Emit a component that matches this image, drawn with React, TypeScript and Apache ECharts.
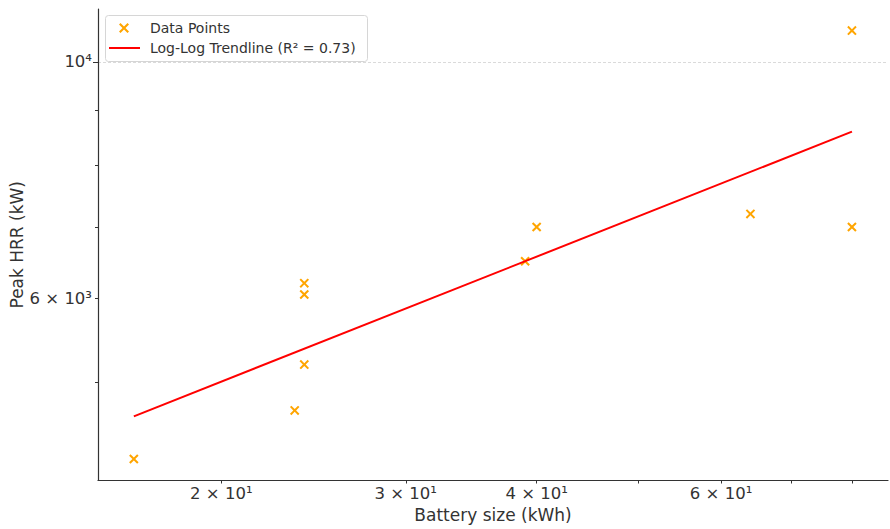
import React, { useEffect, useRef } from 'react';
import * as echarts from 'echarts';

const batterySizes = [16.5, 23.5, 24, 24, 24, 39, 40, 64, 80, 80];
const peakHRR = [4240, 4710, 5200, 6050, 6200, 6500, 7000, 7200, 7000, 10700];
const trendX = [16.5, 80];
const trendY = [4650, 8600];
const xTickValues = [20, 30, 40, 50, 60, 70, 80];
const xLabelValues = [20, 30, 40, 60];
const yMinorTicks = [5000, 6000, 7000, 8000, 9000];
const yMajorTicks = [10000];
const yLabelValues = [6000, 10000];
const seriesNames = ['Data Points', 'Log-Log Trendline (R² = 0.73)'];
const axisNames = ['Battery size (kWh)', 'Peak HRR (kW)'];
const xRange = [15.25, 86.6];
const yRange = [4048, 11210];

const SUP: Record<string, string> = { '0': '⁰', '1': '¹', '2': '²', '3': '³', '4': '⁴', '5': '⁵', '6': '⁶', '7': '⁷', '8': '⁸', '9': '⁹' };
function sci(v: number): string {
  const e = Math.floor(Math.log10(v) + 1e-9);
  const m = Math.round(v / Math.pow(10, e));
  const sup = String(e).split('').map((c) => SUP[c]).join('');
  return m === 1 ? `10${sup}` : `${m} × 10${sup}`;
}

const FONT = 'DejaVu Sans';
const TXT = '#333333';
const XMARK = 'path://M1.5,0L5,3.5L8.5,0L10,1.5L6.5,5L10,8.5L8.5,10L5,6.5L1.5,10L0,8.5L3.5,5L0,1.5Z';

export default function App() {
  const ref = useRef<HTMLDivElement>(null);
  useEffect(() => {
    document.body.style.margin = '0';
    const chart = echarts.init(ref.current!, null, { renderer: 'svg' });
    const scatterData = batterySizes.map((x, i) => [x, peakHRR[i]]);
    const trendData = trendX.map((x, i) => [x, trendY[i]]);
    chart.setOption({
      animation: false,
      backgroundColor: '#ffffff',
      textStyle: { fontFamily: FONT },
      grid: { left: 98, right: 2, top: 9, bottom: 48.5, containLabel: false, outerBoundsMode: 'none' },
      graphic: [
        {
          type: 'rect',
          z: 5,
          shape: { x: 105.5, y: 15.5, width: 262, height: 46, r: 3 },
          style: { fill: 'rgba(255,255,255,0.85)', stroke: '#d6d6d6', lineWidth: 1 },
        },
      ],
      legend: [
        {
          data: [{ name: seriesNames[0], icon: XMARK }],
          left: 119,
          top: 21,
          padding: 0,
          itemWidth: 10,
          itemHeight: 10,
          z: 10,
          selectedMode: false,
          textStyle: { fontSize: 14, color: TXT, fontFamily: FONT, padding: [0, 0, 0, 16] },
        },
        {
          data: [{ name: seriesNames[1], icon: 'rect' }],
          left: 109,
          top: 41,
          padding: 0,
          itemWidth: 31,
          itemHeight: 2,
          z: 10,
          selectedMode: false,
          textStyle: { fontSize: 14, color: TXT, fontFamily: FONT, padding: [0, 0, 0, 5] },
        },
      ],
      xAxis: [
        {
          type: 'log',
          logBase: 10,
          min: xRange[0],
          max: xRange[1],
          name: axisNames[0],
          nameLocation: 'middle',
          nameGap: 26,
          nameMoveOverlap: false,
          nameTextStyle: { fontSize: 17, color: TXT, fontFamily: FONT },
          axisLine: { show: true, lineStyle: { color: '#333333', width: 1.2 } },
          axisTick: { show: true, customValues: xTickValues, length: 3, lineStyle: { color: '#333333', width: 1 } },
          axisLabel: { customValues: xLabelValues, formatter: (v: number) => sci(v), margin: 4.5, fontSize: 16.5, color: TXT, fontFamily: FONT },
          splitLine: { show: false },
          minorTick: { show: false },
        },
      ],
      yAxis: [
        {
          type: 'log',
          logBase: 10,
          min: yRange[0],
          max: yRange[1],
          position: 'left',
          name: axisNames[1],
          nameLocation: 'middle',
          nameGap: 73,
          nameMoveOverlap: false,
          nameTextStyle: { fontSize: 17, color: TXT, fontFamily: FONT },
          axisLine: { show: true, lineStyle: { color: '#333333', width: 1.2 } },
          axisTick: { show: true, customValues: yMinorTicks, length: 3, lineStyle: { color: '#333333', width: 1 } },
          axisLabel: { customValues: yLabelValues, formatter: (v: number) => sci(v), margin: 6, fontSize: 16.5, color: TXT, fontFamily: FONT },
          splitLine: { show: false },
          minorTick: { show: false },
        },
        {
          type: 'log',
          logBase: 10,
          min: yRange[0],
          max: yRange[1],
          position: 'left',
          offset: 0,
          axisLine: { show: false },
          axisTick: { show: true, customValues: yMajorTicks, length: 5, lineStyle: { color: '#333333', width: 1 } },
          axisLabel: { show: false },
          splitLine: { show: true, lineStyle: { color: '#d0d0d0', width: 0.8, type: [3, 2] } },
          minorTick: { show: false },
        },
      ],
      series: [
        {
          name: seriesNames[0],
          type: 'scatter',
          xAxisIndex: 0,
          yAxisIndex: 0,
          data: scatterData,
          symbol: XMARK,
          symbolSize: 9.5,
          itemStyle: { color: '#FFA500', opacity: 1 },
          z: 2,
        },
        {
          name: seriesNames[1],
          type: 'line',
          xAxisIndex: 0,
          yAxisIndex: 0,
          data: trendData,
          showSymbol: false,
          symbol: 'none',
          itemStyle: { color: '#FF0000' },
          lineStyle: { color: '#FF0000', width: 2 },
          z: 3,
        },
      ],
    });
    return () => chart.dispose();
  }, []);
  return <div ref={ref} style={{ width: 890, height: 529 }} />;
}
